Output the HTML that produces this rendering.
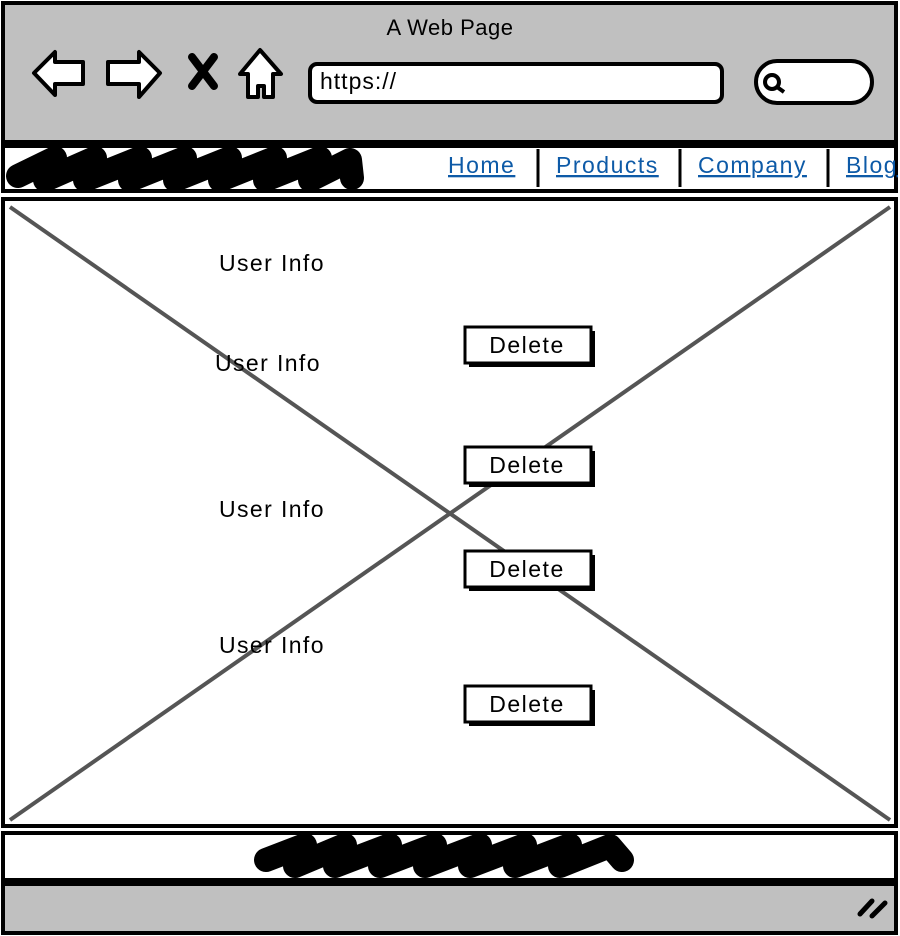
<!DOCTYPE html>
<html><head><meta charset="utf-8"><style>
html,body{margin:0;padding:0;background:#fff;}
svg{display:block;font-family:"Liberation Sans",sans-serif;}
</style></head><body>
<svg width="900" height="936" viewBox="0 0 900 936">
<rect x="3" y="3" width="893" height="139" fill="#c0c0c0" stroke="#000" stroke-width="4"/>
<text x="450" y="35" text-anchor="middle" font-size="22" letter-spacing="0.5">A Web Page</text>
<path d="M34,73 L55,52 L55,62 L83,62 L83,84 L55,84 L55,95 Z" fill="#fff" stroke="#000" stroke-width="4" stroke-linejoin="round"/>
<path d="M160,73 L139,52 L139,62 L108,62 L108,84 L139,84 L139,97 Z" fill="#fff" stroke="#000" stroke-width="4" stroke-linejoin="round"/>
<g><path d="M192,57 L214,86 M214,57 L192,86" stroke="#000" stroke-width="8" stroke-linecap="round"/></g>
<path d="M260,50 L281,74 L273,74 L273,97 L264,97 L264,86 L258,86 L258,97 L248,97 L248,74 L240,74 Z" fill="#fff" stroke="#000" stroke-width="4" stroke-linejoin="round"/>
<rect x="310" y="64" width="412" height="38" rx="7" fill="#fff" stroke="#000" stroke-width="4"/>
<text x="320" y="89" font-size="23" letter-spacing="1">https://</text>
<rect x="756" y="61" width="116" height="42" rx="21" fill="#fff" stroke="#000" stroke-width="4"/>
<g><circle cx="772" cy="82" r="7" fill="none" stroke="#000" stroke-width="4"/><line x1="777" y1="87" x2="784" y2="92" stroke="#000" stroke-width="4"/></g>
<rect x="3" y="146" width="893" height="45" fill="#fff" stroke="#000" stroke-width="4"/>
<path d="M18,176 L55,158 L45,180 L95,158 L85,180 L140,158 L130,180 L185,158 L175,180 L230,158 L220,180 L275,158 L265,180 L320,158 L310,180 L350,160 L352,178" fill="none" stroke="#000" stroke-width="24" stroke-linecap="round" stroke-linejoin="round"/>
<g font-size="23" fill="#0d5aa7" text-decoration="underline" letter-spacing="1.5">
<text x="448" y="173">Home</text>
<text x="556" y="173">Products</text>
<text x="698" y="173">Company</text>
<text x="846" y="173">Blog</text>
</g>
<g stroke="#000" stroke-width="3"><line x1="538" y1="149" x2="538" y2="187"/><line x1="680" y1="149" x2="680" y2="187"/><line x1="828" y1="149" x2="828" y2="187"/></g>
<rect x="3" y="199" width="893" height="627" fill="#fff" stroke="#000" stroke-width="4"/>
<g stroke="#555" stroke-width="4"><line x1="10" y1="207" x2="890" y2="820"/><line x1="890" y1="207" x2="10" y2="820"/></g>
<g font-size="23" letter-spacing="1.4">
<text x="219" y="271">User Info</text>
<text x="215" y="371">User Info</text>
<text x="219" y="517">User Info</text>
<text x="219" y="653">User Info</text>
</g>
<g font-size="23" letter-spacing="1.5">
<g><rect x="469" y="331" width="126" height="36" fill="#000"/><rect x="465" y="327" width="126" height="36" fill="#fff" stroke="#000" stroke-width="3"/><text x="527" y="353" text-anchor="middle">Delete</text></g>
<g><rect x="469" y="451" width="126" height="36" fill="#000"/><rect x="465" y="447" width="126" height="36" fill="#fff" stroke="#000" stroke-width="3"/><text x="527" y="473" text-anchor="middle">Delete</text></g>
<g><rect x="469" y="555" width="126" height="36" fill="#000"/><rect x="465" y="551" width="126" height="36" fill="#fff" stroke="#000" stroke-width="3"/><text x="527" y="577" text-anchor="middle">Delete</text></g>
<g><rect x="469" y="690" width="126" height="36" fill="#000"/><rect x="465" y="686" width="126" height="36" fill="#fff" stroke="#000" stroke-width="3"/><text x="527" y="712" text-anchor="middle">Delete</text></g>
</g>
<rect x="3" y="833" width="893" height="47" fill="#fff" stroke="#000" stroke-width="4"/>
<path d="M266,860 L305,845 L295,866 L345,845 L335,866 L390,845 L380,866 L435,845 L425,866 L480,845 L470,866 L525,845 L515,866 L570,845 L560,866 L610,846 L622,860" fill="none" stroke="#000" stroke-width="24" stroke-linecap="round" stroke-linejoin="round"/>
<rect x="3" y="884" width="893" height="49" fill="#c0c0c0" stroke="#000" stroke-width="4"/>
<g stroke="#000" stroke-width="5" stroke-linecap="round"><line x1="860" y1="914" x2="872" y2="901"/><line x1="872" y1="916" x2="885" y2="903"/></g>
</svg>
</body></html>
